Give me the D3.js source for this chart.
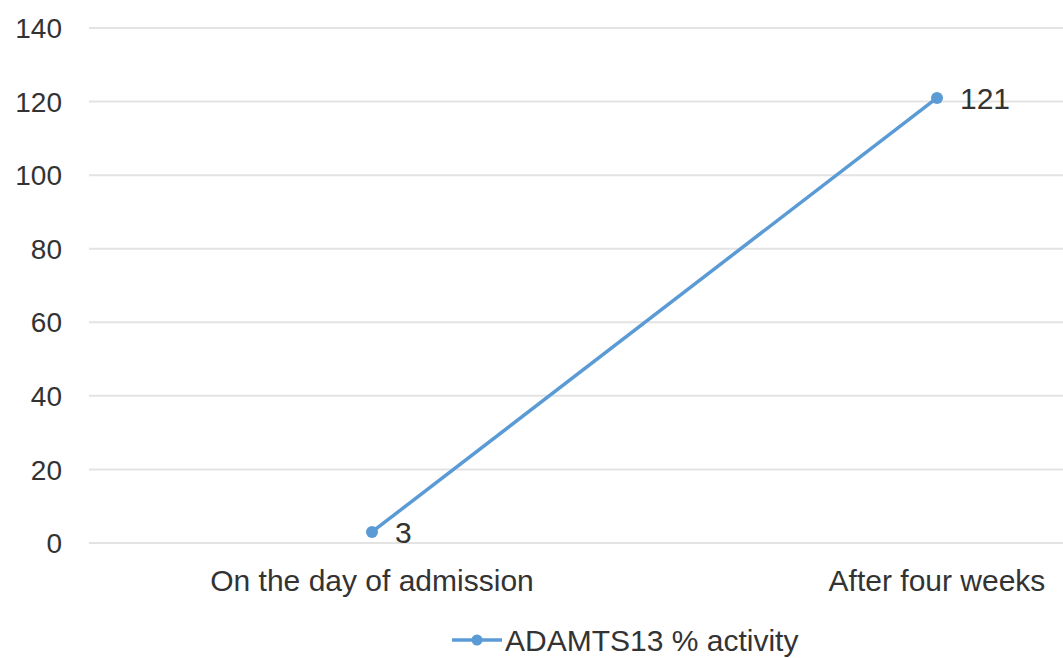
<!DOCTYPE html>
<html>
<head>
<meta charset="utf-8">
<script src="https://cdn.jsdelivr.net/npm/d3@7"></script>
<style>
  body { margin: 0; background: #fff; }
  text { font-family: "Liberation Sans", Arial, sans-serif; fill: #333; }
</style>
</head>
<body>
<svg id="chart"></svg>
<script>
const width = 1063;
const height = 658;

// data
const categories = ["On the day of admission", "After four weeks"];
const values = [3, 121];
const seriesName = "ADAMTS13 % activity";
const yTicks = [0, 20, 40, 60, 80, 100, 120, 140];

const svg = d3.select("#chart").attr("width", width).attr("height", height);

const x = d3.scalePoint().domain(categories).range([89.5, 1219.5]).padding(0.5);
const y = d3.scaleLinear().domain([0, 140]).range([543, 28]);

const color = "#5b9bd5";

// gridlines
svg.append("g")
  .selectAll("line")
  .data(yTicks)
  .join("line")
  .attr("x1", 89)
  .attr("x2", width)
  .attr("y1", d => y(d))
  .attr("y2", d => y(d))
  .attr("stroke", "#e3e3e3")
  .attr("stroke-width", 2);

// y axis labels
svg.append("g")
  .selectAll("text")
  .data(yTicks)
  .join("text")
  .attr("x", 62)
  .attr("y", d => y(d))
  .attr("dy", "0.36em")
  .attr("text-anchor", "end")
  .style("font-size", "28px")
  .text(d => d);

// x axis labels
svg.append("g")
  .selectAll("text")
  .data(categories)
  .join("text")
  .attr("x", d => x(d))
  .attr("y", 580)
  .attr("dy", "0.36em")
  .attr("text-anchor", "middle")
  .style("font-size", "30px")
  .text(d => d);

const pts = categories.map((c, i) => ({ c: c, v: values[i] }));

svg.append("path")
  .datum(pts)
  .attr("fill", "none")
  .attr("stroke", color)
  .attr("stroke-width", 3.5)
  .attr("d", d3.line().x(d => x(d.c)).y(d => y(d.v)));

svg.append("g")
  .selectAll("circle")
  .data(pts)
  .join("circle")
  .attr("cx", d => x(d.c))
  .attr("cy", d => y(d.v))
  .attr("r", 6)
  .attr("fill", color);

// data labels
svg.append("g")
  .selectAll("text")
  .data(pts)
  .join("text")
  .attr("x", d => x(d.c) + 23)
  .attr("y", d => y(d.v))
  .attr("dy", "0.36em")
  .style("font-size", "30px")
  .text(d => d.v);

// legend
const lg = svg.append("g");
lg.append("line")
  .attr("x1", 452).attr("x2", 502)
  .attr("y1", 640).attr("y2", 640)
  .attr("stroke", color).attr("stroke-width", 3.5);
lg.append("circle")
  .attr("cx", 477).attr("cy", 640).attr("r", 5.5).attr("fill", color);
lg.append("text")
  .attr("x", 505).attr("y", 640).attr("dy", "0.36em")
  .style("font-size", "30px")
  .text(seriesName);
</script>
</body>
</html>
